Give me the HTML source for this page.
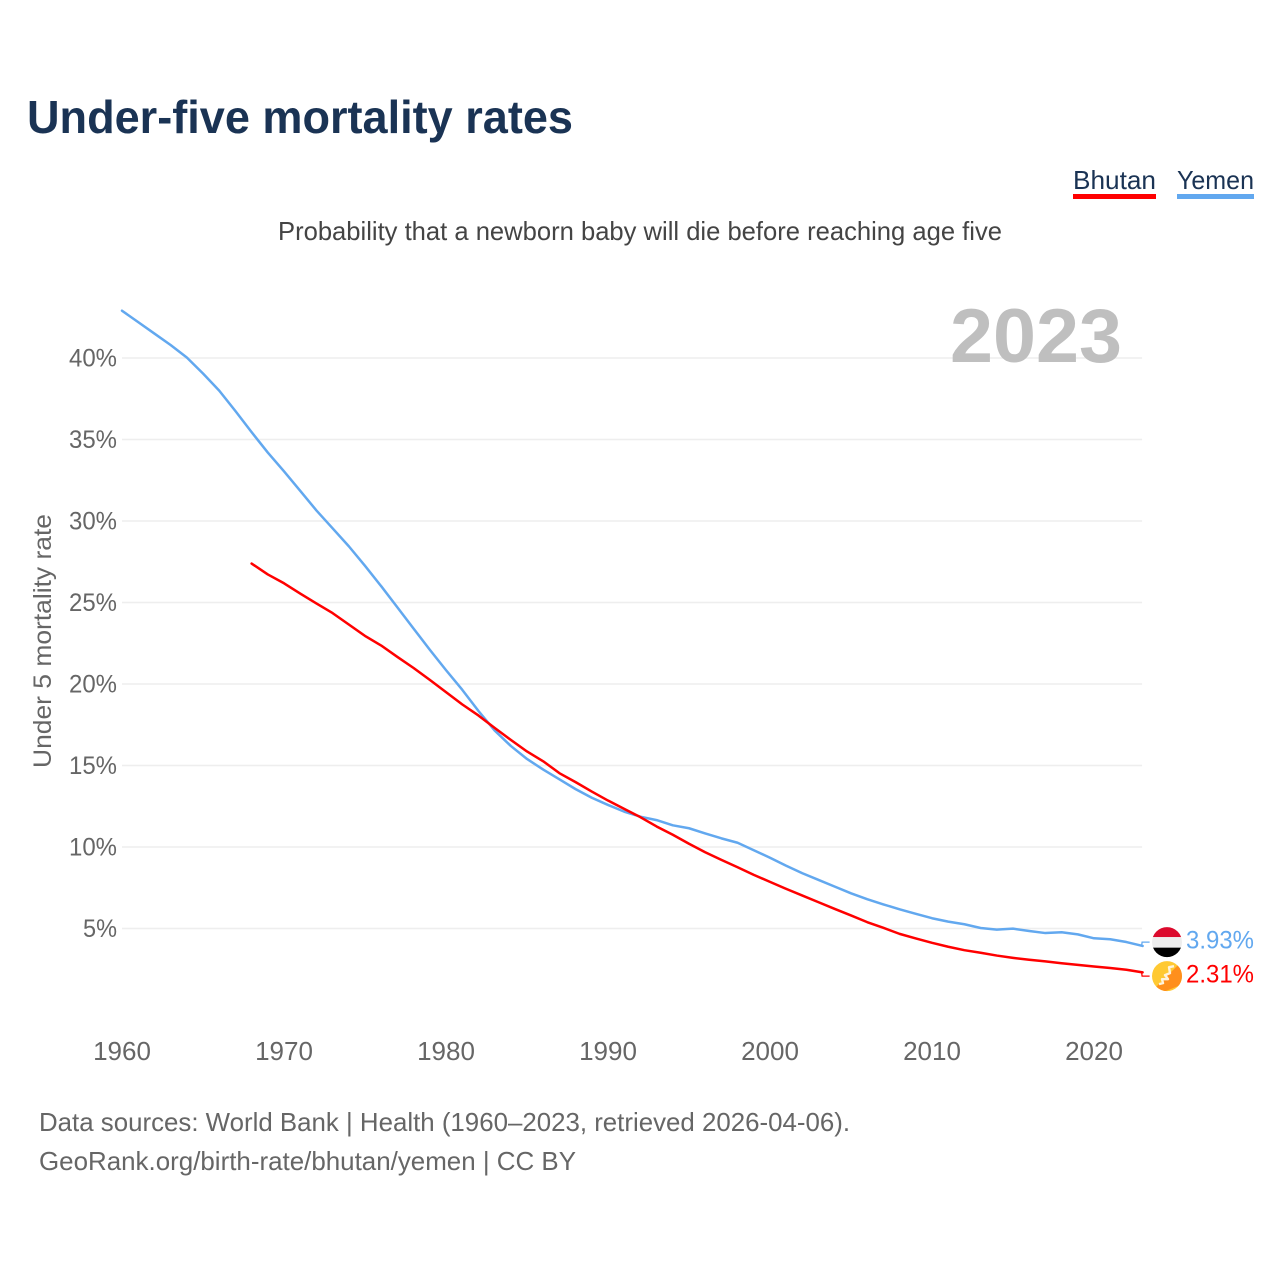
<!DOCTYPE html>
<html lang="en">
<head>
<meta charset="utf-8">
<title>Under-five mortality rates</title>
<style>
html,body{margin:0;padding:0;background:#fff}
svg{display:block}
text{font-family:"Liberation Sans",Arial,sans-serif}
</style>
</head>
<body>
<svg id="chart" xmlns="http://www.w3.org/2000/svg" width="1280" height="1280" viewBox="0 0 1280 1280">
  <defs>
    <clipPath id="flag-clip-a"><circle cx="0" cy="0" r="15"/></clipPath>
  </defs>
  <rect x="0" y="0" width="1280" height="1280" fill="#fff"/>
  <text x="27" y="133" font-size="46" font-weight="700" fill="#1a3354" textLength="546" lengthAdjust="spacingAndGlyphs">Under-five mortality rates</text>

  <g>
    <g>
      <text x="1073" y="189" font-size="26" fill="#1a3354" textLength="83" lengthAdjust="spacingAndGlyphs">Bhutan</text>
      <rect x="1073" y="194" width="83" height="5" fill="#ff0000"/>
    </g>
    <g>
      <text x="1177" y="189" font-size="26" fill="#1a3354" textLength="77" lengthAdjust="spacingAndGlyphs">Yemen</text>
      <rect x="1177" y="194" width="77" height="5" fill="#62a8ef"/>
    </g>
  </g>

  <text x="278" y="240" font-size="26" fill="#444" textLength="724" lengthAdjust="spacingAndGlyphs">Probability that a newborn baby will die before reaching age five</text>

  <g id="grid"></g>
  <g id="yticks"></g>
  <g id="xticks"></g>

  <text x="950" y="362" font-size="76" font-weight="700" fill="#bfbfbf" textLength="172" lengthAdjust="spacingAndGlyphs">2023</text>

  <text transform="translate(51,768) rotate(-90)" x="0" y="0" font-size="25" fill="#666" textLength="254" lengthAdjust="spacingAndGlyphs">Under 5 mortality rate</text>

  <g id="series"></g>
  <g id="endlabels"></g>

  <text x="39" y="1131" font-size="26" fill="#666" textLength="811" lengthAdjust="spacingAndGlyphs">Data sources: World Bank | Health (1960–2023, retrieved 2026-04-06).</text>
  <text x="39" y="1170" font-size="26" fill="#666" textLength="537" lengthAdjust="spacingAndGlyphs">GeoRank.org/birth-rate/bhutan/yemen | CC BY</text>
</svg>
<script>
const xTicks = [1960, 1970, 1980, 1990, 2000, 2010, 2020];
const yTicks = [5, 10, 15, 20, 25, 30, 35, 40];

const yemenStartYear = 1960;
const yemenValues = [
  42.9, 42.2, 41.5, 40.8, 40.03, 39.05, 38.0, 36.75, 35.45, 34.2,
  33.05, 31.85, 30.65, 29.55, 28.45, 27.25, 26.0, 24.7, 23.4, 22.1,
  20.85, 19.65, 18.35, 17.15, 16.2, 15.4, 14.75, 14.15, 13.55, 13.02,
  12.58, 12.17, 11.86, 11.65, 11.33, 11.15, 10.83, 10.53, 10.26, 9.8,
  9.34, 8.85, 8.39, 7.98, 7.57, 7.16, 6.8, 6.48, 6.18, 5.9,
  5.63, 5.42, 5.26, 5.03, 4.93, 4.99, 4.85, 4.72, 4.77, 4.64,
  4.4, 4.34, 4.17, 3.93
];

const bhutanStartYear = 1968;
const bhutanValues = [
  27.39, 26.72, 26.18, 25.55, 24.94, 24.35, 23.65, 22.95, 22.36, 21.66,
  20.98, 20.25, 19.5, 18.75, 18.07, 17.31, 16.57, 15.86, 15.26, 14.53,
  13.98, 13.4, 12.85, 12.34, 11.83, 11.26, 10.75, 10.2, 9.68, 9.21,
  8.76, 8.29, 7.86, 7.43, 7.02, 6.61, 6.2, 5.8, 5.39, 5.04,
  4.67, 4.39, 4.12, 3.88, 3.67, 3.51, 3.34, 3.2, 3.08, 2.98,
  2.87, 2.77, 2.67, 2.58, 2.47, 2.31
];

const NS = 'http://www.w3.org/2000/svg';
const YEMEN_COLOR = '#62a8ef';
const BHUTAN_COLOR = '#ff0000';

function xScale(year) { return 122 + (year - 1960) * 16.2; }
function yScale(v) { return 928.5 - (v - 5) * 16.3; }

function make(tag, attrs, parent, content) {
  const el = document.createElementNS(NS, tag);
  for (const k in attrs) el.setAttribute(k, attrs[k]);
  if (content !== undefined) el.textContent = content;
  parent.appendChild(el);
  return el;
}

const gridGroup = document.getElementById('grid');
const yTickGroup = document.getElementById('yticks');
const xTickGroup = document.getElementById('xticks');
const seriesGroup = document.getElementById('series');
const endGroup = document.getElementById('endlabels');

yTicks.forEach(function (t) {
  const line = make('line', { x1: xScale(1960), x2: xScale(2023) - 0.5, y1: yScale(t), y2: yScale(t), stroke: '#eeeeee', 'stroke-width': 1.6 }, gridGroup);
  
  
  const label = make('text', { x: 69, y: yScale(t) + 8.5, 'font-size': 25, fill: '#666', textLength: 48, lengthAdjust: 'spacingAndGlyphs' }, yTickGroup, t + '%');
  if (t < 10) { label.setAttribute('x', 83); label.setAttribute('textLength', 34); }
  
  
});

xTicks.forEach(function (t) {
  const label = make('text', { x: xScale(t), y: 1060, 'font-size': 26, fill: '#666', 'text-anchor': 'middle' }, xTickGroup, String(t));
  
  
});

function drawLine(values, startYear, color) {
  const pts = values.map(function (v, i) {
    return xScale(startYear + i).toFixed(2) + ',' + yScale(v).toFixed(2);
  });
  return make('polyline', { points: pts.join(' '), fill: 'none', stroke: color, 'stroke-width': 2.5, 'stroke-linejoin': 'round', 'stroke-linecap': 'round' }, seriesGroup);
}

const yemenLine = drawLine(yemenValues, yemenStartYear, YEMEN_COLOR);


const bhutanLine = drawLine(bhutanValues, bhutanStartYear, BHUTAN_COLOR);



const yemenLast = yemenValues[yemenValues.length - 1];
const bhutanLast = bhutanValues[bhutanValues.length - 1];
const yemenEndY = yScale(yemenLast);
const bhutanEndY = yScale(bhutanLast);
const endMid = (yemenEndY + bhutanEndY) / 2;
const labelYemenY = Math.min(yemenEndY, endMid - 17);
const labelBhutanY = Math.max(bhutanEndY, endMid + 17);
const endX = xScale(2023);

function connector(endY, labelY, color) {
  return make('polyline', { points: (endX - 1) + ',' + endY + ' ' + (endX - 0.5) + ',' + labelY + ' ' + (endX + 7) + ',' + labelY, fill: 'none', stroke: color, 'stroke-width': 1.3 }, endGroup);
}

const yemenConn = connector(yemenEndY, labelYemenY, YEMEN_COLOR);


const bhutanConn = connector(bhutanEndY, labelBhutanY, BHUTAN_COLOR);



/* Yemen flag */
const yFlag = make('g', { transform: 'translate(1167,' + labelYemenY + ')', 'clip-path': 'url(#flag-clip-a)' }, endGroup);


make('rect', { x: -16, y: -16, width: 32, height: 11, fill: '#dc0a2d' }, yFlag);
make('rect', { x: -16, y: -5, width: 32, height: 10.5, fill: '#eeeeee' }, yFlag);
make('rect', { x: -16, y: 5.5, width: 32, height: 11, fill: '#000000' }, yFlag);

/* Bhutan flag */
const bFlag = make('g', { transform: 'translate(1167,' + labelBhutanY + ')', 'clip-path': 'url(#flag-clip-a)' }, endGroup);


make('rect', { x: -16, y: -16, width: 32, height: 32, fill: '#ffc933' }, bFlag);
make('polygon', { points: '16,-16 16,8 -4,16 -16,16', fill: '#ff8f1c' }, bFlag);
make('polyline', { points: '7,-10 2,-9 3,-3 -2,-1 1,3 -5,3 -4,7 -8,8', fill: 'none', stroke: '#fff3dc', 'stroke-width': 2.4, 'stroke-linejoin': 'round' }, bFlag);

const yemenValueLabel = make('text', { x: 1186, y: labelYemenY + 6.5, 'font-size': 25, fill: YEMEN_COLOR, textLength: 68, lengthAdjust: 'spacingAndGlyphs' }, endGroup, yemenLast.toFixed(2) + '%');


const bhutanValueLabel = make('text', { x: 1186, y: labelBhutanY + 6.5, 'font-size': 25, fill: BHUTAN_COLOR, textLength: 68, lengthAdjust: 'spacingAndGlyphs' }, endGroup, bhutanLast.toFixed(2) + '%');


</script>
</body>
</html>
